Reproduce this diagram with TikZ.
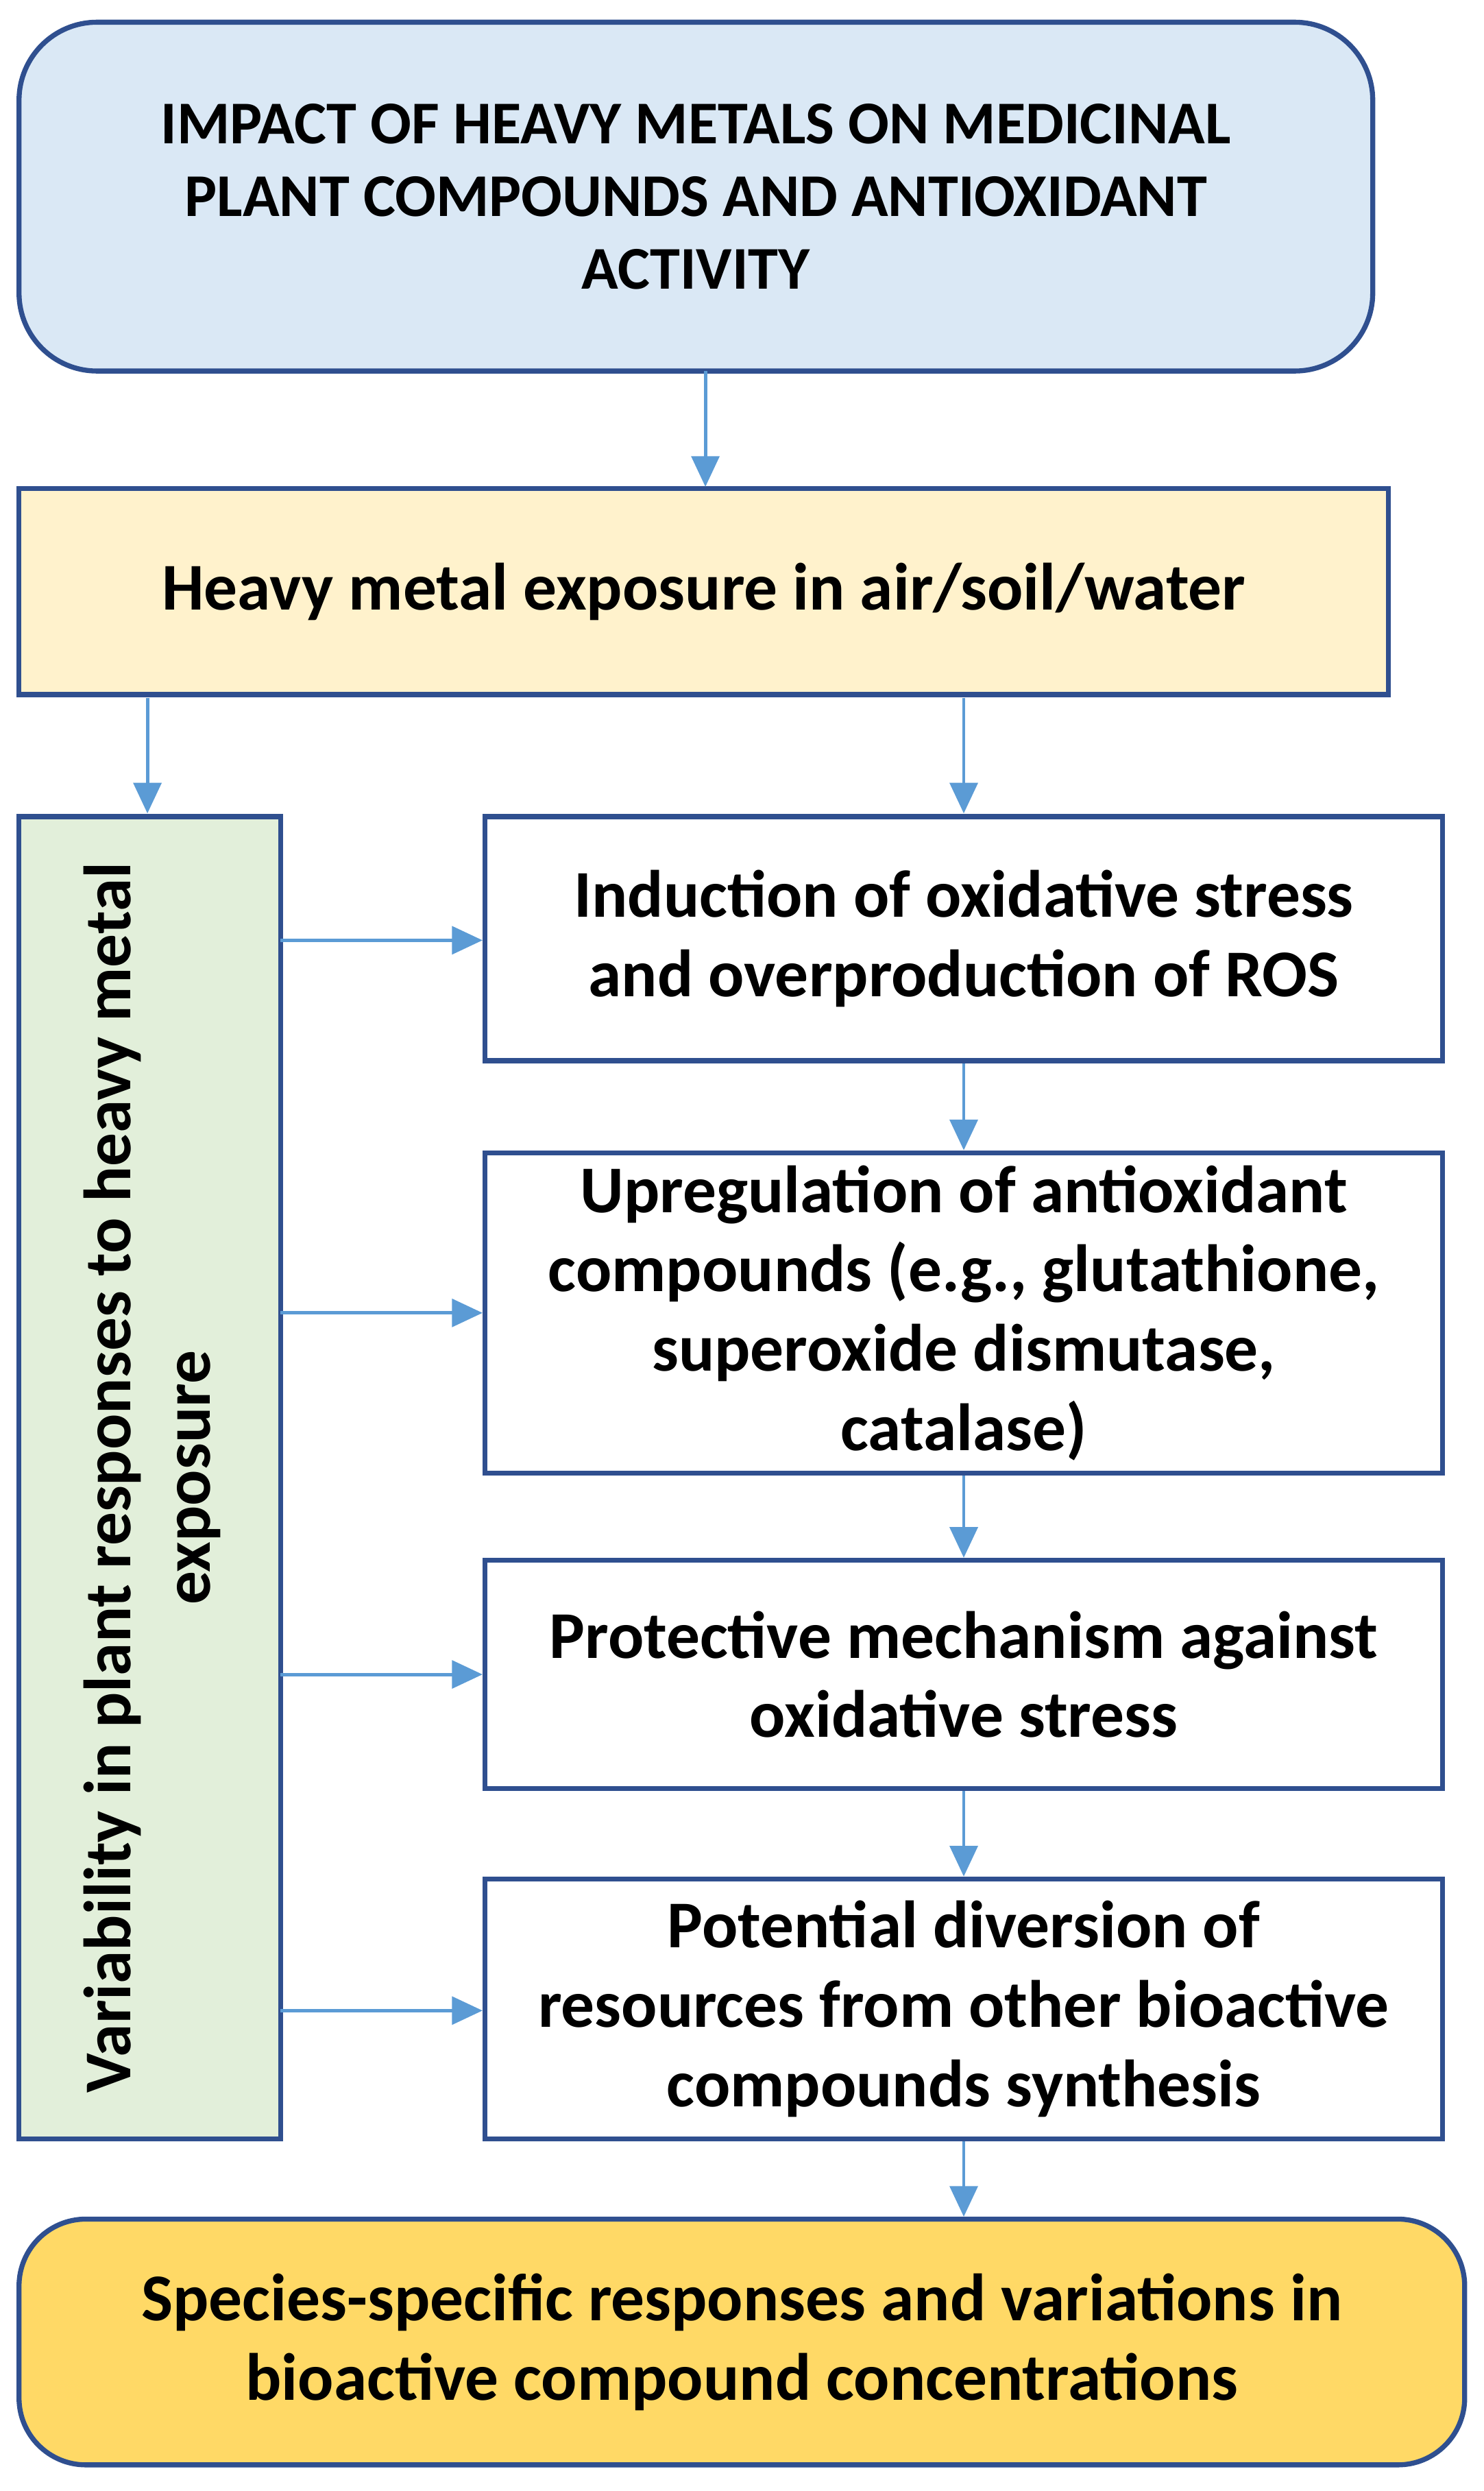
\documentclass[tikz,border=0pt]{standalone}
\usepackage{fontspec}
\setmainfont{Carlito}
\usetikzlibrary{arrows.meta}
\definecolor{bd}{HTML}{2F4F8F}
\definecolor{ar}{HTML}{5B9BD5}
\definecolor{blu}{HTML}{DAE8F5}
\definecolor{yel}{HTML}{FFF2CC}
\definecolor{grn}{HTML}{E2EFDA}
\definecolor{gold}{HTML}{FFD966}
\begin{document}
\begin{tikzpicture}[x=0.02cm,y=-0.02cm,
 box/.style={draw=bd,line width=1.8pt,align=center,inner sep=0pt,font=\bfseries\fontsize{24}{28.5}\selectfont},
 arr/.style={draw=ar,line width=1.2pt,-{Triangle[length=11pt,width=10pt]}}]
\useasboundingbox (0,0) rectangle (936,1571);
\node[box,fill=blu,rounded corners=28pt,minimum width=854*0.02cm,minimum height=220*0.02cm,font=\bfseries\fontsize{21.8}{26}\selectfont] (t) at (439,124) {IMPACT OF HEAVY METALS ON MEDICINAL\\PLANT COMPOUNDS AND ANTIOXIDANT\\ACTIVITY};
\node[box,fill=yel,minimum width=864*0.02cm,minimum height=130*0.02cm] (h) at (444,373) {Heavy metal exposure in air/soil/water};
\node[box,fill=grn,minimum width=165*0.02cm,minimum height=834*0.02cm] (v) at (94.5,932) {};
\node[font=\bfseries\fontsize{24}{28.5}\selectfont,align=center,rotate=90] at (96,932) {Variability in plant responses to heavy metal\\exposure};
\node[box,fill=white,minimum width=604*0.02cm,minimum height=154*0.02cm] (b1) at (608,592) {Induction of oxidative stress\\and overproduction of ROS};
\node[box,fill=white,minimum width=604*0.02cm,minimum height=202*0.02cm] (b2) at (608,828) {Upregulation of antioxidant\\compounds (e.g., glutathione,\\superoxide dismutase,\\catalase)};
\node[box,fill=white,minimum width=604*0.02cm,minimum height=144*0.02cm] (b3) at (608,1056) {Protective mechanism against\\oxidative stress};
\node[box,fill=white,minimum width=604*0.02cm,minimum height=164*0.02cm] (b4) at (608,1267) {Potential diversion of\\resources from other bioactive\\compounds synthesis};
\node[box,fill=gold,rounded corners=24pt,minimum width=912*0.02cm,minimum height=155*0.02cm] (s) at (468,1477) {Species-specific responses and variations in\\bioactive compound concentrations};
\draw[arr] (445,234) -- (445,307);
\draw[arr] (93,440) -- (93,513);
\draw[arr] (608,440) -- (608,513);
\draw[arr] (b1.south) -- (b2.north);
\draw[arr] (b2.south) -- (b3.north);
\draw[arr] (b3.south) -- (b4.north);
\draw[arr] (b4.south) -- (608,1398);
\foreach \b/\y in {b1/593,b2/828,b3/1056,b4/1268}
  \draw[arr] (177,\y) -- (\b.west |- 0,\y);
\end{tikzpicture}
\end{document}
